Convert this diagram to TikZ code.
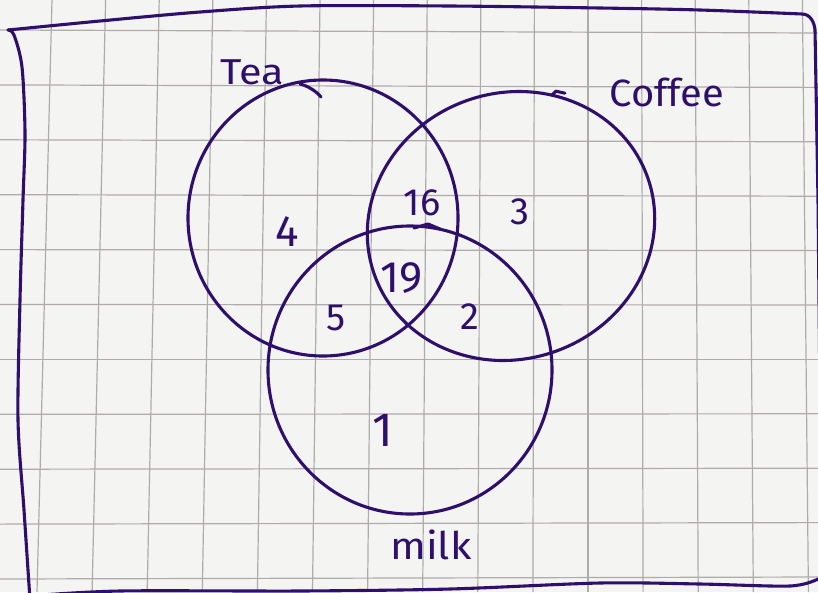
\documentclass[tikz,border=0pt]{standalone}
\usepackage{fontspec}
\setmainfont{Fira Sans}
\definecolor{ink}{RGB}{46,16,108}
\definecolor{gridc}{RGB}{175,171,171}
\definecolor{paper}{RGB}{244,244,242}
\begin{document}
\begin{tikzpicture}[x=1pt,y=-1pt,
  pen/.style={draw=ink, line width=3.1pt, line cap=round, line join=round},
  gridline/.style={draw=gridc, line width=1.2pt},
  num/.style={text=ink, inner sep=0pt, font=\fontsize{38}{38}\selectfont},
  lbl/.style={text=ink, inner sep=0pt}]
\fill[paper] (0,0) rectangle (818,592);
\useasboundingbox (0,0) rectangle (818,592);
% grid paper
\foreach \k in {0,...,14} { \draw[gridline] ({52+53.6*\k},0) -- ({37+55.1*\k},592); }
\foreach \j in {0,...,10} { \draw[gridline] (0,{30+54.9*\j}) -- (818,{33+54.4*\j}); }
% hand-drawn frame
\draw[pen] plot[smooth] coordinates {(8,30) (100,21) (200,12) (300,6) (450,6) (600,8) (700,10) (802,14)} to[out=0,in=95] (815,30) -- (818,200) -- (822,600);
\draw[pen] plot[smooth] coordinates {(8,30) (14,35) (22,67) (25,133) (23,200) (20,300) (18,420) (24,510) (30,600)};
\draw[pen] plot[smooth] coordinates {(28,596) (120,591) (300,591) (450,589) (600,583) (700,584) (790,586) (818,579)};
% circles
\coordinate (tc) at (323,218);
\coordinate (cc) at (511,226);
\coordinate (mc) at (410,370);
\draw[pen] (tc) ellipse [x radius=135, y radius=138];
\draw[pen, rotate around={20:(cc)}] (cc) ellipse [x radius=145, y radius=133];
\draw[pen] (mc) ellipse [x radius=142, y radius=144];
\path[rotate around={20:(cc)}] (cc) ++({145*cos(-55)},{133*sin(-55)}) coordinate (ch);
% pen start hooks
\draw[pen] (321,97) .. controls (316,91) and (308,86) .. (300,84);
\draw[pen] (ch) -- ++(4,-4) -- ++(9,2);
\draw[pen] (414,228) -- (428,224) -- (440,229);
% labels
\node[lbl, font=\fontsize{36}{36}\selectfont, xscale=1.15] (tea) at (252,72) {Tea};
\node[lbl, font=\fontsize{38}{38}\selectfont, xscale=1.05] (coffee) at (667,92) {Coffee};
\node[lbl, font=\fontsize{38}{38}\selectfont, xscale=1.1] (milk) at (431,545) {milk};
\node[num, font=\fontsize{44}{44}\selectfont] (n4) at (287,232) {4};
\node[num] (n16) at (422,203) {16};
\node[num] (n3) at (520,212) {3};
\node[num, font=\fontsize{44}{44}\selectfont] (n19) at (402,278) {19};
\node[num] (n5) at (336,318) {5};
\node[num] (n2) at (470,317) {2};
\node[num, font=\fontsize{48}{48}\selectfont] (n1) at (383,430) {1};
\end{tikzpicture}
\end{document}
